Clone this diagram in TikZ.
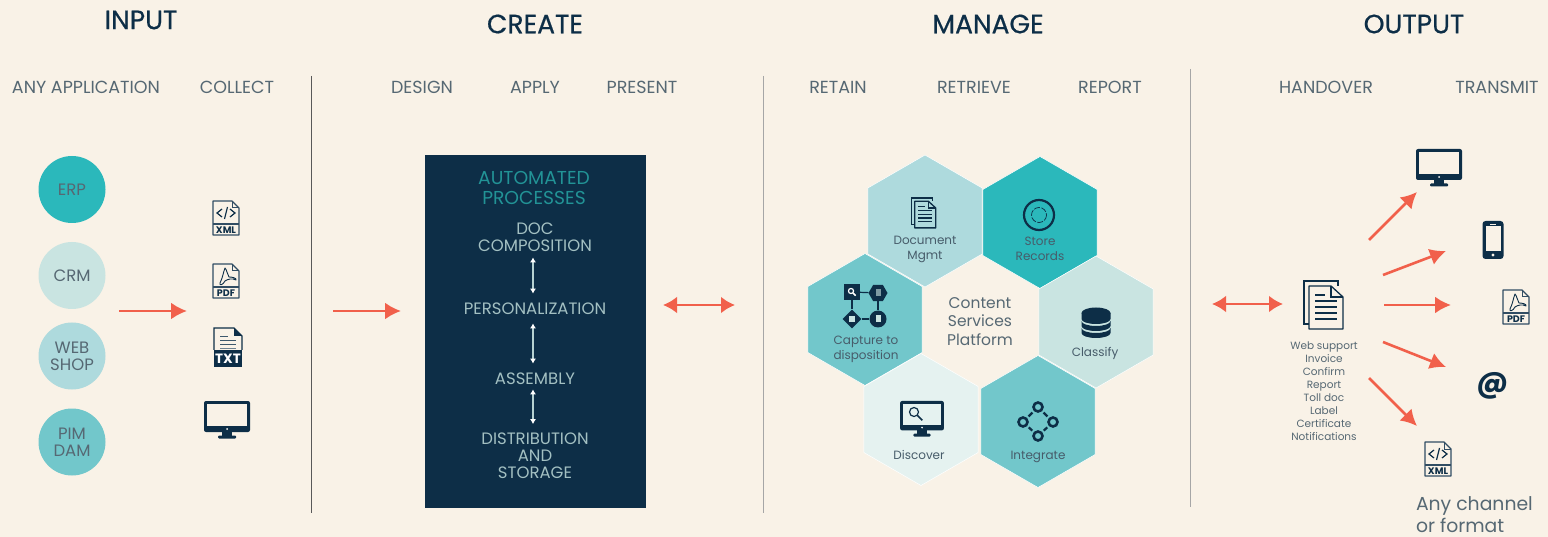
\documentclass[tikz,border=0pt]{standalone}
\usepackage{fontspec}
\setmainfont{Poppins}
\newfontfamily\titlefont[FakeBold=0.6]{Poppins}
\usetikzlibrary{shapes.geometric, arrows.meta, positioning}

\definecolor{paper}{HTML}{F9F2E7}
\definecolor{navy}{HTML}{0D2E47}
\definecolor{coral}{HTML}{F1604B}
\definecolor{tealA}{HTML}{2BB8BB}
\definecolor{tealB}{HTML}{72C7CB}
\definecolor{tealC}{HTML}{AEDADD}
\definecolor{tealD}{HTML}{C9E4E1}
\definecolor{tealE}{HTML}{E5F2F0}
\definecolor{slate}{HTML}{566873}

\tikzset{
  txt/.style={inner sep=0pt, outer sep=0pt, align=center, text=slate},
  title/.style={txt, text=navy, font=\titlefont\fontsize{26.5}{30}\selectfont},
  subhead/.style={txt, font=\fontsize{17.5}{20}\selectfont},
  inbox/.style={txt, text=tealD!80!navy, font=\fontsize{16.5}{17}\selectfont},
  hexlabel/.style={txt, text=slate!80!navy, font=\fontsize{12}{15}\selectfont},
  ball/.style={circle, minimum size=67pt, inner sep=0pt, text=slate, align=center, font=\fontsize{16.5}{17}\selectfont},
  hexa/.style={regular polygon, regular polygon sides=6, shape border rotate=90, minimum size=132pt, inner sep=0pt, draw=white, line width=0.5pt},
  sep/.style={line width=1pt},
  flow/.style={coral, line width=2.6pt, -{Latex[length=16pt, width=17pt]}},
  flowboth/.style={coral, line width=2.8pt, {Latex[length=14pt, width=17pt]}-{Latex[length=14pt, width=17pt]}},
  updown/.style={line width=1.3pt, draw=tealD!90!navy, {Latex[length=5pt, width=6pt, white]}-{Latex[length=5pt, width=6pt, white]}},
  pics/filedoc/.style={code={
    \draw[navy!85, line width=1.2pt, line join=round] (-13,-17) -- (6,-17) -- (13,-10) -- (13,17) -- (-13,17) -- cycle;
    \draw[navy!85, line width=1pt] (6,-17) -- (6,-10) -- (13,-10);
    \draw[navy!85, line width=1.2pt] (-13,6) -- (13,6);
    \node[inner sep=0pt, text=navy, font=\fontsize{9.5}{10}\bfseries\selectfont] (lbl) at (0,11.7) {#1};
  }},
  pics/xmlmark/.style={code={
    \draw[navy, line width=1.2pt] (-4,-7) -- (-9,-3) -- (-4,1);
    \draw[navy, line width=1.2pt] (4,-7) -- (9,-3) -- (4,1);
    \draw[navy, line width=1.2pt] (1.5,-9) -- (-1.5,3);
  }},
  pics/pdfmark/.style={code={
    \draw[navy, line width=0.9pt, line join=round] (-1,-13) .. controls (-3,-8) and (-3,-4) .. (-6,2)
      .. controls (-7,5) and (-3,4) .. (-1,0) .. controls (2,-2) and (6,-3) .. (10,-1)
      .. controls (11,-3) and (6,-4) .. (3,-4) .. controls (1,-7) and (1,-11) .. (-1,-13) -- cycle;
  }},
  pics/txtdoc/.style={code={
    \fill[navy] (-14,3) rectangle (14,20);
    \draw[navy, line width=1.2pt] (-14,3) -- (-14,-19) -- (6,-19) -- (14,-11) -- (14,3);
    \fill[navy] (6,-19) -- (14,-11) -- (6,-11) -- cycle;
    \draw[navy!80, line width=1pt] (-8,-10) -- (0,-10) (-8,-6) -- (8,-6) (-8,-2) -- (8,-2);
    \draw[navy!60, line width=1pt] (-8,1.5) -- (8,1.5);
    \node[inner sep=0pt, text=white, font=\fontsize{13.5}{14}\bfseries\selectfont] (lbl) at (0,12) {TXT};
  }},
  pics/screen/.style={code={
    \fill[navy, rounded corners=2pt] (-23,-19) rectangle (23,12);
    \fill[#1] (-20,-16) rectangle (20,6);
    \fill[white] (0,9) circle (1pt);
    \fill[navy] (-5,12) rectangle (5,16);
    \fill[navy, rounded corners=1pt] (-9,15.5) rectangle (9,18.5);
  }},
  pics/phone/.style={code={
    \fill[navy, rounded corners=3pt] (-10.5,-19) rectangle (10.5,19);
    \fill[paper] (-7.5,-13.5) rectangle (7.5,11);
    \fill[paper] (0,15) circle (1.7pt);
    \draw[paper, line width=0.7pt] (-3,-16) -- (3,-16);
  }},
  pics/docstack/.style={code={
    \draw[navy, line width=1.3pt] (14,-19) -- (14,-24) -- (-20,-24) -- (-20,19) -- (-15,19);
    \fill[#1] (-15,-19) rectangle (19,24);
    \draw[navy, line width=1.3pt, line join=round] (-15,-19) -- (7,-19) -- (19,-8) -- (19,24) -- (-15,24) -- cycle;
    \draw[navy, line width=1.3pt] (7,-19) -- (7,-8) -- (19,-8);
    \draw[navy, line width=1.1pt] (-9,-10) -- (1,-10) (-9,-4) -- (13,-4) (-9,2) -- (13,2) (-9,8) -- (13,8) (-9,14) -- (13,14);
  }},
  pics/recycle/.style={code={
    \draw[navy, line width=2.2pt] (0,0) circle (15);
    \draw[navy, line width=0.7pt, dash pattern=on 6pt off 1.5pt] (0,0) circle (7.5);
  }},
  pics/database/.style={code={
    \fill[navy] (-14.5,-9) -- (-14.5,-3) arc[start angle=180, end angle=360, x radius=14.5, y radius=-5] -- (14.5,-9) -- cycle;
    \fill[navy] (0,-9) ellipse (14.5 and 5.5);
    \fill[navy] (-14.5,-1) -- (-14.5,4) arc[start angle=180, end angle=360, x radius=14.5, y radius=-5] -- (14.5,-1) arc[start angle=360, end angle=180, x radius=14.5, y radius=-5] -- cycle;
    \fill[navy] (-14.5,6) -- (-14.5,11) arc[start angle=180, end angle=360, x radius=14.5, y radius=-5] -- (14.5,6) arc[start angle=360, end angle=180, x radius=14.5, y radius=-5] -- cycle;
  }},
  pics/lens/.style={code={
    \draw[#1, line width=1.2pt] (0,0) circle (3);
    \draw[#1, line width=1.5pt] (2.2,2.2) -- (5.5,5.5);
  }},
}

\begin{document}
\begin{tikzpicture}[x=1pt, y=-1pt]

\useasboundingbox (0,0) rectangle (1548,537);
\fill[paper] (0,0) rectangle (1548,537);

% headings
\node[title] (input) at (141,20) {INPUT};
\node[title] (create) at (535,24) {CREATE};
\node[title] (manage) at (988,24) {MANAGE};
\node[title] (output) at (1414,24) {OUTPUT};

\node[subhead] (anyapp) at (86,87) {ANY APPLICATION};
\node[subhead] (collect) at (237,87) {COLLECT};
\node[subhead] (design) at (422,87) {DESIGN};
\node[subhead] (apply) at (535,87) {APPLY};
\node[subhead] (present) at (642,87) {PRESENT};
\node[subhead] (retain) at (838,87) {RETAIN};
\node[subhead] (retrieve) at (974,87) {RETRIEVE};
\node[subhead] (report) at (1110,87) {REPORT};
\node[subhead] (handover) at (1326,87) {HANDOVER};
\node[subhead] (transmit) at (1497,87) {TRANSMIT};

% separators
\coordinate (sepAt) at (311,76);
\coordinate (sepAb) at (311,513);
\coordinate (sepBt) at (763,76);
\coordinate (sepBb) at (763,513);
\coordinate (sepCt) at (1190,69);
\coordinate (sepCb) at (1190,507);
\draw[sep, draw=black!65] (sepAt) -- (sepAb);
\draw[sep, draw=black!35] (sepBt) -- (sepBb);
\draw[sep, draw=black!35] (sepCt) -- (sepCb);

% input column
\node[ball, fill=tealA] (erp) at (72,189.5) {ERP};
\node[ball, fill=tealD] (crm) at (72,275.5) {CRM};
\node[ball, fill=tealC] (web) at (72,356) {WEB\\SHOP};
\node[ball, fill=tealB] (pim) at (72,442) {PIM\\DAM};

\pic (xmlA) at (226,218) {filedoc={XML}};
\pic at (226,216) {xmlmark};
\pic (pdfA) at (226,281) {filedoc={PDF}};
\pic at (226,281) {pdfmark};
\pic (txtA) at (228,347) {txtdoc};
\pic at (227,420) {screen=paper};

\coordinate (inA) at (119,311);
\coordinate (inB) at (187,311);
\draw[flow] (inA) -- (inB);
\coordinate (crA) at (333,311);
\coordinate (crB) at (401,311);
\draw[flow] (crA) -- (crB);
\coordinate (mgA) at (663,305);
\coordinate (mgB) at (735,305);
\draw[flowboth] (mgA) -- (mgB);
\coordinate (outA) at (1212,304);
\coordinate (outB) at (1283,304);
\draw[flowboth] (outA) -- (outB);

% automated processes
\node[fill=navy, minimum width=221pt, minimum height=353pt, inner sep=0pt] (panel) at (535.5,331.5) {};
\node[txt, text=tealA!80!black, font=\fontsize{18.7}{20}\selectfont] (auto) at (534,187.5) {AUTOMATED\\PROCESSES};
\node[inbox] (doccomp) at (535,237) {DOC\\COMPOSITION};
\node[inbox] (personal) at (535,308.5) {PERSONALIZATION};
\node[inbox] (assembly) at (535,378.5) {ASSEMBLY};
\node[inbox] (distrib) at (535,456) {DISTRIBUTION\\AND\\STORAGE};
\draw[updown, shorten <=6pt, shorten >=9pt] ([xshift=-2pt]doccomp.south) -- ([xshift=-2pt]personal.north);
\draw[updown, shorten <=9pt, shorten >=9pt] ([xshift=-2pt]personal.south) -- ([xshift=-2pt]assembly.north);
\draw[updown, shorten <=5pt, shorten >=9pt] ([xshift=-2pt]assembly.south) -- ([xshift=-2pt]distrib.north);

% hexagons
\node[hexa, fill=tealC] (docmgmt) at (925,221) {};
\node[hexa, fill=tealA] (store) at (1040,222.5) {};
\node[hexa, fill=tealB] (capture) at (865,319.5) {};
\node[hexa, fill=tealD] (classify) at (1096,322) {};
\node[hexa, fill=tealE] (discover) at (921,419.5) {};
\node[hexa, fill=tealB] (integrate) at (1038,421.5) {};

\node[txt, font=\fontsize{15.5}{18.5}\selectfont] (content) at (980,321.5) {Content\\Services\\Platform};
\node[hexlabel] (lbDoc) at (925,249.5) {Document\\Mgmt};
\node[hexlabel] (lbStore) at (1040,249) {Store\\Records};
\node[hexlabel] (lbCapture) at (866,349) {Capture to\\disposition};
\node[hexlabel] (lbClassify) at (1095,353) {Classify};
\node[hexlabel] (lbDiscover) at (919,455) {Discover};
\node[hexlabel] (lbIntegrate) at (1038,456.5) {Integrate};

% icons in the hexagons
\pic[scale=0.62] at (924,213) {docstack=tealC};
\pic at (1039,215) {recycle};
\pic at (1096,322) {database};
\pic[scale=0.95] at (922,419) {screen=tealE};
\pic[scale=1.5] at (914,412) {lens={navy}};

\node[fill=navy, minimum size=16pt, inner sep=0pt] (capA) at (852,292) {};
\node[fill=navy, regular polygon, regular polygon sides=6, minimum size=19pt, inner sep=0pt] (capB) at (878,293) {};
\node[fill=navy, diamond, minimum size=19pt, inner sep=0pt] (capC) at (852,319) {};
\node[fill=navy, circle, minimum size=17pt, inner sep=0pt] (capD) at (878,319) {};
\draw[navy, line width=1.2pt] (capA) -- (capB);
\draw[navy, line width=1.2pt] (capA) -- (capC);
\draw[navy, line width=1.2pt] (capC) -- (capD);
\draw[navy, line width=1.2pt] (capB) -- (capD);
\pic[scale=0.85] at (851,291) {lens={white}};
\fill[tealD!60!navy] (875.5,289.5) rectangle (880.5,296);
\fill[tealD] (849,316) rectangle (855,322);
\fill[tealD] (875.5,315.5) rectangle (880.5,322.5);

\node[circle, draw=navy, line width=2.6pt, minimum size=9pt, inner sep=0pt] (intA) at (1038,407) {};
\node[circle, draw=navy, line width=2.6pt, minimum size=9pt, inner sep=0pt] (intB) at (1023,422) {};
\node[circle, draw=navy, line width=2.6pt, minimum size=9pt, inner sep=0pt] (intC) at (1053,422) {};
\node[circle, draw=navy, line width=2.6pt, minimum size=9pt, inner sep=0pt] (intD) at (1038,436) {};
\draw[navy, line width=2.2pt, shorten <=2pt, shorten >=2pt] (intA) -- (intB);
\draw[navy, line width=2.2pt, shorten <=2pt, shorten >=2pt] (intA) -- (intC);
\draw[navy, line width=2.2pt, shorten <=2pt, shorten >=2pt] (intB) -- (intD);
\draw[navy, line width=2.2pt, shorten <=2pt, shorten >=2pt] (intC) -- (intD);

% output column
\pic at (1324,305) {docstack=paper};
\node[txt, font=\fontsize{10.5}{13}\selectfont] (doclist) at (1324,391) {Web support\\Invoice\\Confirm\\Report\\Toll doc\\Label\\Certificate\\Notifications};

\pic at (1439,168) {screen=paper};
\pic at (1493,240) {phone};
\pic (pdfB) at (1516,307) {filedoc={PDF}};
\pic at (1516,307) {pdfmark};
\node[inner sep=0pt, text=navy, font=\fontsize{30}{32}\bfseries\selectfont] (atsign) at (1493,386) {@};
\pic (xmlB) at (1438,459) {filedoc={XML}};
\pic at (1438,457) {xmlmark};

\coordinate (fanAs) at (1369,240);
\coordinate (fanAe) at (1417,192);
\coordinate (fanBs) at (1383,275);
\coordinate (fanBe) at (1446,251);
\coordinate (fanCs) at (1384,305);
\coordinate (fanCe) at (1451,305);
\coordinate (fanDs) at (1383,342);
\coordinate (fanDe) at (1446,367);
\coordinate (fanEs) at (1369,378);
\coordinate (fanEe) at (1417,426);
\draw[flow] (fanAs) -- (fanAe);
\draw[flow] (fanBs) -- (fanBe);
\draw[flow] (fanCs) -- (fanCe);
\draw[flow] (fanDs) -- (fanDe);
\draw[flow] (fanEs) -- (fanEe);

\node[txt, align=left, anchor=west, font=\fontsize{18.8}{22.5}\selectfont] (anyfmt) at (1416,514.5) {Any channel\\or format};

\end{tikzpicture}
\end{document}
